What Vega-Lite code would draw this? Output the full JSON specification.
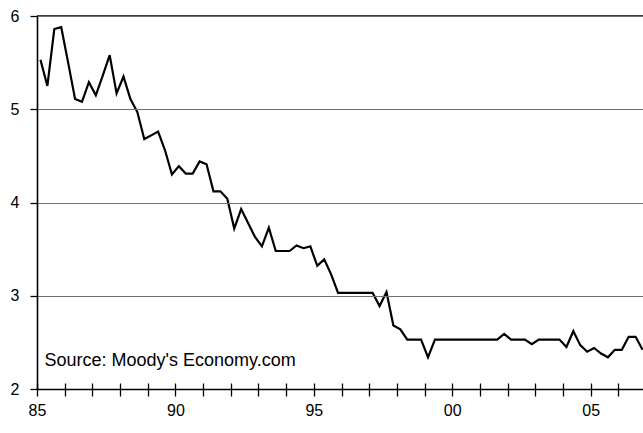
{
  "$schema": "https://vega.github.io/schema/vega-lite/v6.json",
  "autosize": {"type": "none"},
  "padding": {"left": 37, "top": 16, "right": 0, "bottom": 44},
  "width": 609,
  "height": 373,
  "background": "white",
  "config": {
    "view": {"stroke": null},
    "font": "Liberation Sans"
  },
  "data": {
    "values": [
      {"t": 1985.125, "v": 5.53}, {"t": 1985.375, "v": 5.25}, {"t": 1985.625, "v": 5.86}, {"t": 1985.875, "v": 5.88},
      {"t": 1986.125, "v": 5.50}, {"t": 1986.375, "v": 5.11}, {"t": 1986.625, "v": 5.08}, {"t": 1986.875, "v": 5.29},
      {"t": 1987.125, "v": 5.15}, {"t": 1987.375, "v": 5.36}, {"t": 1987.625, "v": 5.58}, {"t": 1987.875, "v": 5.17},
      {"t": 1988.125, "v": 5.35}, {"t": 1988.375, "v": 5.11}, {"t": 1988.625, "v": 4.97}, {"t": 1988.875, "v": 4.68},
      {"t": 1989.125, "v": 4.72}, {"t": 1989.375, "v": 4.76}, {"t": 1989.625, "v": 4.56}, {"t": 1989.875, "v": 4.30},
      {"t": 1990.125, "v": 4.39}, {"t": 1990.375, "v": 4.31}, {"t": 1990.625, "v": 4.31}, {"t": 1990.875, "v": 4.44},
      {"t": 1991.125, "v": 4.41}, {"t": 1991.375, "v": 4.12}, {"t": 1991.625, "v": 4.12}, {"t": 1991.875, "v": 4.04},
      {"t": 1992.125, "v": 3.72}, {"t": 1992.375, "v": 3.93}, {"t": 1992.625, "v": 3.78}, {"t": 1992.875, "v": 3.63},
      {"t": 1993.125, "v": 3.53}, {"t": 1993.375, "v": 3.73}, {"t": 1993.625, "v": 3.48}, {"t": 1993.875, "v": 3.48},
      {"t": 1994.125, "v": 3.48}, {"t": 1994.375, "v": 3.54}, {"t": 1994.625, "v": 3.51}, {"t": 1994.875, "v": 3.53},
      {"t": 1995.125, "v": 3.32}, {"t": 1995.375, "v": 3.39}, {"t": 1995.625, "v": 3.23}, {"t": 1995.875, "v": 3.03},
      {"t": 1996.125, "v": 3.03}, {"t": 1996.375, "v": 3.03}, {"t": 1996.625, "v": 3.03}, {"t": 1996.875, "v": 3.03},
      {"t": 1997.125, "v": 3.03}, {"t": 1997.375, "v": 2.89}, {"t": 1997.625, "v": 3.04}, {"t": 1997.875, "v": 2.68},
      {"t": 1998.125, "v": 2.64}, {"t": 1998.375, "v": 2.53}, {"t": 1998.625, "v": 2.53}, {"t": 1998.875, "v": 2.53},
      {"t": 1999.125, "v": 2.34}, {"t": 1999.375, "v": 2.53}, {"t": 1999.625, "v": 2.53}, {"t": 1999.875, "v": 2.53},
      {"t": 2000.125, "v": 2.53}, {"t": 2000.375, "v": 2.53}, {"t": 2000.625, "v": 2.53}, {"t": 2000.875, "v": 2.53},
      {"t": 2001.125, "v": 2.53}, {"t": 2001.375, "v": 2.53}, {"t": 2001.625, "v": 2.53}, {"t": 2001.875, "v": 2.59},
      {"t": 2002.125, "v": 2.53}, {"t": 2002.375, "v": 2.53}, {"t": 2002.625, "v": 2.53}, {"t": 2002.875, "v": 2.48},
      {"t": 2003.125, "v": 2.53}, {"t": 2003.375, "v": 2.53}, {"t": 2003.625, "v": 2.53}, {"t": 2003.875, "v": 2.53},
      {"t": 2004.125, "v": 2.45}, {"t": 2004.375, "v": 2.62}, {"t": 2004.625, "v": 2.47}, {"t": 2004.875, "v": 2.40},
      {"t": 2005.125, "v": 2.44}, {"t": 2005.375, "v": 2.38}, {"t": 2005.625, "v": 2.34}, {"t": 2005.875, "v": 2.42},
      {"t": 2006.125, "v": 2.42}, {"t": 2006.375, "v": 2.56}, {"t": 2006.625, "v": 2.56}, {"t": 2006.875, "v": 2.42}
    ]
  },
  "layer": [
    {
      "mark": {"type": "line", "color": "black", "strokeWidth": 2.2, "clip": false},
      "encoding": {
        "x": {
          "field": "t", "type": "quantitative",
          "scale": {"domain": [1985, 2007], "nice": false, "zero": false},
          "axis": {
            "orient": "bottom", "title": null, "grid": false, "zindex": 1,
            "domain": true, "domainColor": "#000000", "domainWidth": 1.6, "domainOpacity": 1,
            "ticks": true, "tickColor": "#000000", "tickWidth": 1.3, "tickOpacity": 1, "tickSize": 7,
            "values": [1985,1986,1987,1988,1989,1990,1991,1992,1993,1994,1995,1996,1997,1998,1999,2000,2001,2002,2003,2004,2005,2006,2007],
            "labelExpr": "datum.value % 5 == 0 ? slice(toString(datum.value), 2) : ''",
            "labelFont": "Liberation Sans", "labelFontSize": 16, "labelColor": "#000000",
            "labelPadding": 6, "labelOverlap": false, "labelFlush": false
          }
        },
        "y": {
          "field": "v", "type": "quantitative",
          "scale": {"domain": [2, 6], "nice": false, "zero": false},
          "axis": {
            "title": null, "values": [2, 3, 4, 5, 6], "format": "d", "zindex": 1,
            "grid": true, "gridColor": "#707070", "gridWidth": 1.2,
            "domain": true, "domainColor": "#000000", "domainWidth": 1.6, "domainOpacity": 1,
            "ticks": true, "tickColor": "#000000", "tickWidth": 1.3, "tickOpacity": 1, "tickSize": 7,
            "labelFont": "Liberation Sans", "labelFontSize": 16, "labelColor": "#000000", "labelPadding": 11
          }
        }
      }
    },
    {
      "mark": {"type": "line", "opacity": 0},
      "encoding": {
        "x": {
          "field": "t", "type": "quantitative",
          "axis": {
            "orient": "bottom", "title": null, "grid": false, "labels": false, "domain": false, "zindex": 1,
            "ticks": true, "tickColor": "#000000", "tickWidth": 1.3, "tickOpacity": 1, "tickSize": -6,
            "values": [1985,1986,1987,1988,1989,1990,1991,1992,1993,1994,1995,1996,1997,1998,1999,2000,2001,2002,2003,2004,2005,2006,2007]
          }
        },
        "y": {"field": "v", "type": "quantitative"}
      }
    },
    {
      "data": {"values": [{"ref": 6}]},
      "mark": {"type": "rule", "color": "black", "strokeWidth": 1.4},
      "encoding": {
        "y": {"field": "ref", "type": "quantitative"}
      }
    },
    {
      "data": {"values": [{"note": "Source: Moody's Economy.com"}]},
      "mark": {"type": "text", "align": "left", "baseline": "middle", "fontSize": 18, "font": "Liberation Sans", "color": "black"},
      "encoding": {
        "x": {"datum": 1985.27, "axis": null},
        "y": {"datum": 2.3},
        "text": {"field": "note"}
      }
    }
  ],
  "resolve": {"axis": {"x": "independent"}}
}
